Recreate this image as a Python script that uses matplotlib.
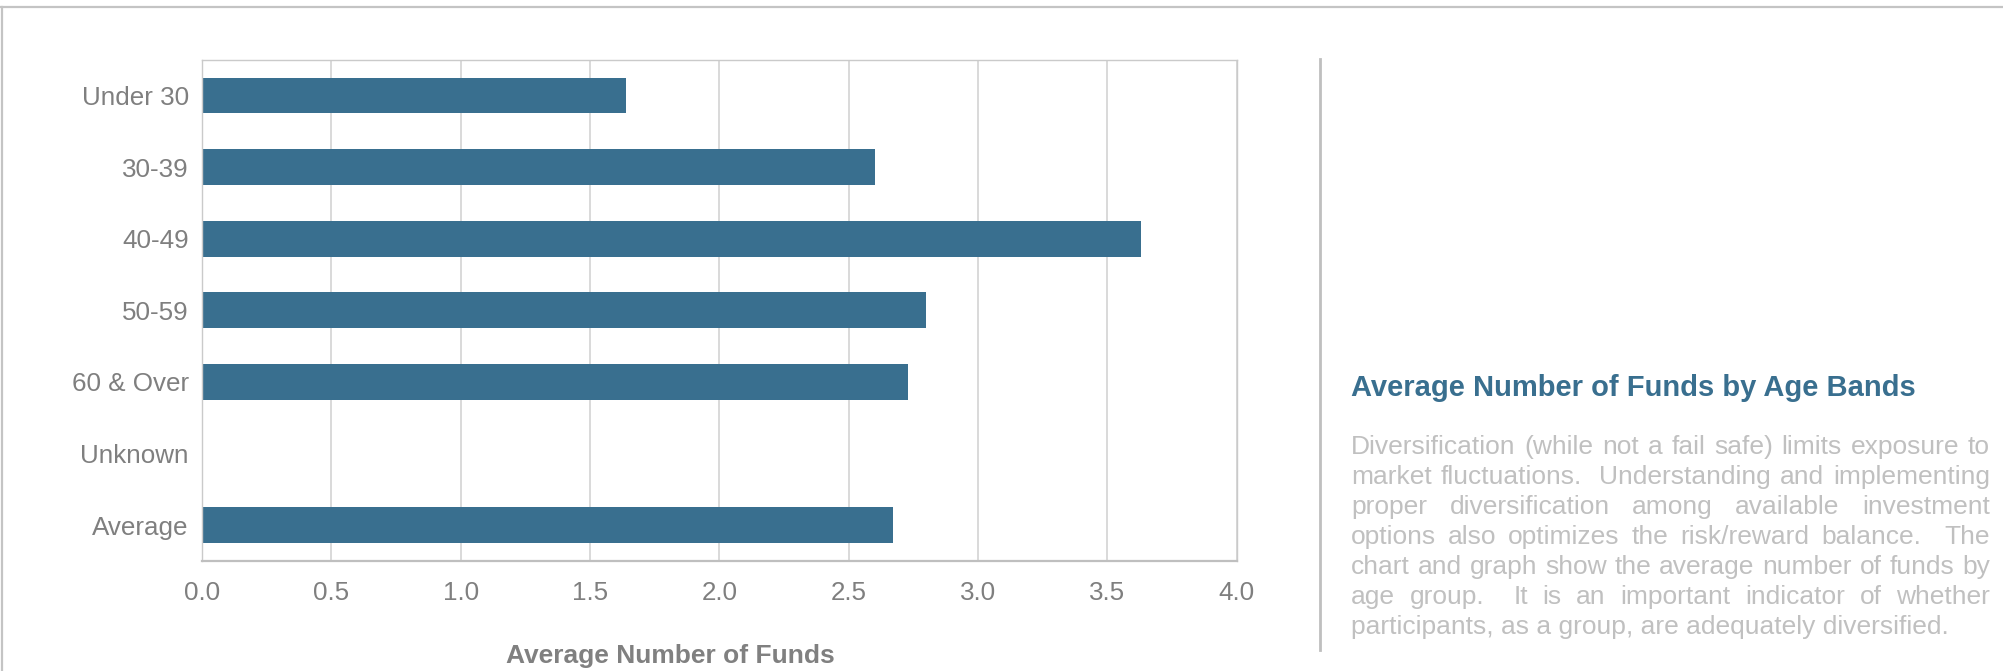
import matplotlib
matplotlib.use("Agg")
import matplotlib.pyplot as plt
from matplotlib.lines import Line2D
import numpy as np

AGE_BANDS = ["Under 30", "30-39", "40-49", "50-59", "60 & Over", "Unknown", "Average"]
AVG_FUNDS = [1.64, 2.60, 3.63, 2.80, 2.73, 0.0, 2.67]
X_TICKS = [0.0, 0.5, 1.0, 1.5, 2.0, 2.5, 3.0, 3.5, 4.0]

TITLE = "Average Number of Funds by Age Bands"
X_LABEL = "Average Number of Funds"
BLURB_LINES = [
    "Diversification (while not a fail safe) limits exposure to",
    "market fluctuations.  Understanding and implementing",
    "proper diversification among available investment",
    "options also optimizes the risk/reward balance.  The",
    "chart and graph show the average number of funds by",
    "age group.  It is an important indicator of whether",
    "participants, as a group, are adequately diversified.",
]

BLUE = "#396f8f"
TICK_GREY = "#7f7f7f"
TEXT_GREY = "#c0c0c0"
LINE_GREY = "#c4c4c4"

W, H = 2003, 671
DPI = 100


def px_x(x):
    return x / W


def px_y(y):
    return 1 - y / H


def justified_paragraph(fig, lines, left, right, first_baseline, line_gap, **kw):
    renderer = fig.canvas.get_renderer()
    for i, line in enumerate(lines):
        y = px_y(first_baseline + i * line_gap)
        if i == len(lines) - 1:
            fig.text(px_x(left), y, line, va="baseline", **kw)
            continue
        words = line.split(" ")
        widths = []
        for w in words:
            if not w:
                widths.append(0.0)
                continue
            t = fig.text(0, 0, w, **kw)
            widths.append(t.get_window_extent(renderer).width)
            t.remove()
        gap = (right - left - sum(widths)) / (len(words) - 1)
        x = left
        for w, wd in zip(words, widths):
            if w:
                fig.text(px_x(x), y, w, va="baseline", **kw)
            x += wd + gap


plt.rcParams["font.family"] = ["Liberation Sans", "DejaVu Sans"]

fig = plt.figure(figsize=(W / DPI, H / DPI), dpi=DPI)
fig.patch.set_facecolor("white")

# chart area
ax = fig.add_axes([px_x(202), px_y(561), (1236.7 - 202) / W, (561 - 59.7) / H])
ypos = np.arange(len(AGE_BANDS))
ax.barh(ypos, AVG_FUNDS, height=0.5, color=BLUE, linewidth=0)
ax.set_ylim(len(AGE_BANDS) - 0.5, -0.5)
ax.set_xlim(0, 4)
ax.set_xticks(X_TICKS)
ax.set_xticklabels([f"{t:.1f}" for t in X_TICKS])
ax.set_yticks(ypos)
ax.set_yticklabels(AGE_BANDS)
ax.tick_params(axis="both", length=0, labelsize=18.7, labelcolor=TICK_GREY)
ax.tick_params(axis="x", pad=14.2)
ax.tick_params(axis="y", pad=9.4)
ax.set_axisbelow(True)
ax.grid(axis="x", color="#d9d9d9", linewidth=1.4)
for side in ["top", "left", "right"]:
    ax.spines[side].set_color("#cacaca")
    ax.spines[side].set_linewidth(1.0)
ax.spines["bottom"].set_color("#bfbfbf")
ax.spines["bottom"].set_linewidth(1.6)

fig.text(px_x(670), px_y(663.3), X_LABEL, ha="center", va="baseline",
         fontsize=19, fontweight="bold", color="#808080")

# right hand text panel
fig.text(px_x(1351), px_y(396), TITLE, va="baseline",
         fontsize=21, fontweight="bold", color=BLUE)
justified_paragraph(fig, BLURB_LINES, 1351, 1990, 454, 30,
                    fontsize=19, color=TEXT_GREY)

# frame + separator
fig.add_artist(Line2D([0, 1], [px_y(7), px_y(7)], transform=fig.transFigure,
                      color=LINE_GREY, linewidth=1.6))
fig.add_artist(Line2D([px_x(1.5), px_x(1.5)], [px_y(7), 0], transform=fig.transFigure,
                      color=LINE_GREY, linewidth=1.6))
fig.add_artist(Line2D([px_x(1319.5), px_x(1319.5)], [px_y(59), px_y(650)],
                      transform=fig.transFigure, color="#bfbfbf", linewidth=2.0))

fig.savefig("out.png", dpi=DPI, facecolor="white")
